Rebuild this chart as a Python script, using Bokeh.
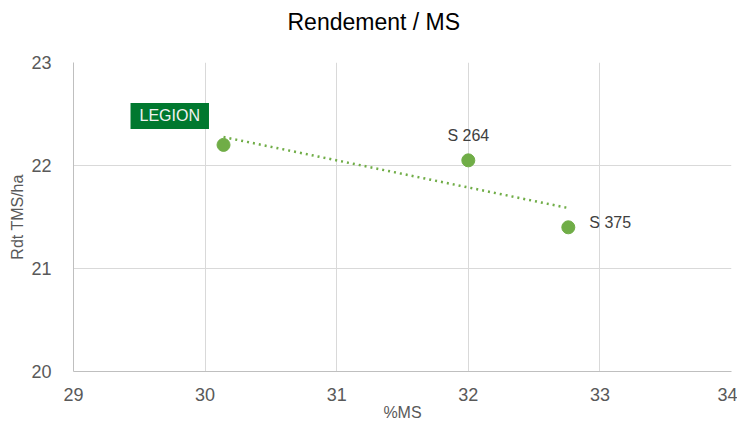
from bokeh.plotting import figure
from bokeh.models import Label, FixedTicker, Range1d, Title
from bokeh.embed import file_html
from bokeh.resources import INLINE
import numpy as np

names = ["LEGION", "S 264", "S 375"]
ms = [30.14, 32.0, 32.76]
rdt = [22.2, 22.05, 21.4]
x_ticks = [29, 30, 31, 32, 33, 34]
y_ticks = [20, 21, 22, 23]

FONT = "Liberation Sans"
GREEN = "#70AD47"
GRAY = "#595959"

W, H = 737, 428
BL, BR, BT, BB = 73, 6, 62, 57

p = figure(width=W, height=H, output_backend="svg", toolbar_location=None,
           x_range=Range1d(29, 34), y_range=Range1d(20, 23),
           min_border_left=BL, min_border_right=BR, min_border_top=BT, min_border_bottom=BB)
p.title = None
p.add_layout(Title(text=" ", text_font_size="19px", standoff=0), "above")
p.add_layout(Title(text="Rendement / MS", align="left", offset=214,
                   text_font=FONT, text_font_size="23px", text_color="black",
                   text_font_style="normal"), "above")
p.outline_line_color = None
p.background_fill_color = "white"

for ax in (p.xaxis, p.yaxis):
    ax.axis_line_color = "#BFBFBF"
    ax.major_tick_line_color = None
    ax.minor_tick_line_color = None
    ax.major_label_text_font = FONT
    ax.major_label_text_font_size = "18px"
    ax.major_label_text_color = GRAY
    ax.axis_label_text_font = FONT
    ax.axis_label_text_font_size = "16px"
    ax.axis_label_text_color = GRAY
    ax.axis_label_text_font_style = "normal"
p.xaxis.ticker = FixedTicker(ticks=x_ticks)
p.yaxis.ticker = FixedTicker(ticks=y_ticks)
p.xaxis.axis_label = "%MS"
p.yaxis.axis_label = "Rdt TMS/ha"
p.xaxis.major_label_standoff = 10
p.yaxis.major_label_standoff = 16
p.xaxis.axis_label_standoff = 0
p.yaxis.axis_label_standoff = 2
p.grid.grid_line_color = "#D9D9D9"
p.grid.grid_line_width = 1

# trendline (least squares)
slope, intercept = np.polyfit(ms, rdt, 1)
tx = [min(ms), max(ms)]
ty = [slope * v + intercept for v in tx]
p.line(tx, ty, line_color=GREEN, line_width=2.5, line_dash="2 4")

p.scatter(ms, rdt, size=13, color=GREEN)

# labels
p.add_layout(Label(x=ms[0], y=rdt[0], text=names[0], x_offset=-93, y_offset=29,
                   text_font=FONT, text_font_size="16px", text_color="#F2F2F2",
                   background_fill_color="#00782F", padding=[9, 9, 4, 5],
                   text_baseline="middle"))
p.add_layout(Label(x=ms[1], y=rdt[1], text=names[1], x_offset=0, y_offset=25,
                   text_align="center", text_baseline="middle",
                   text_font=FONT, text_font_size="16px", text_color="#404040"))
p.add_layout(Label(x=ms[2], y=rdt[2], text=names[2], x_offset=21, y_offset=5,
                   text_align="left", text_baseline="middle",
                   text_font=FONT, text_font_size="16px", text_color="#404040"))

open("out.html", "w").write(file_html(p, INLINE))
